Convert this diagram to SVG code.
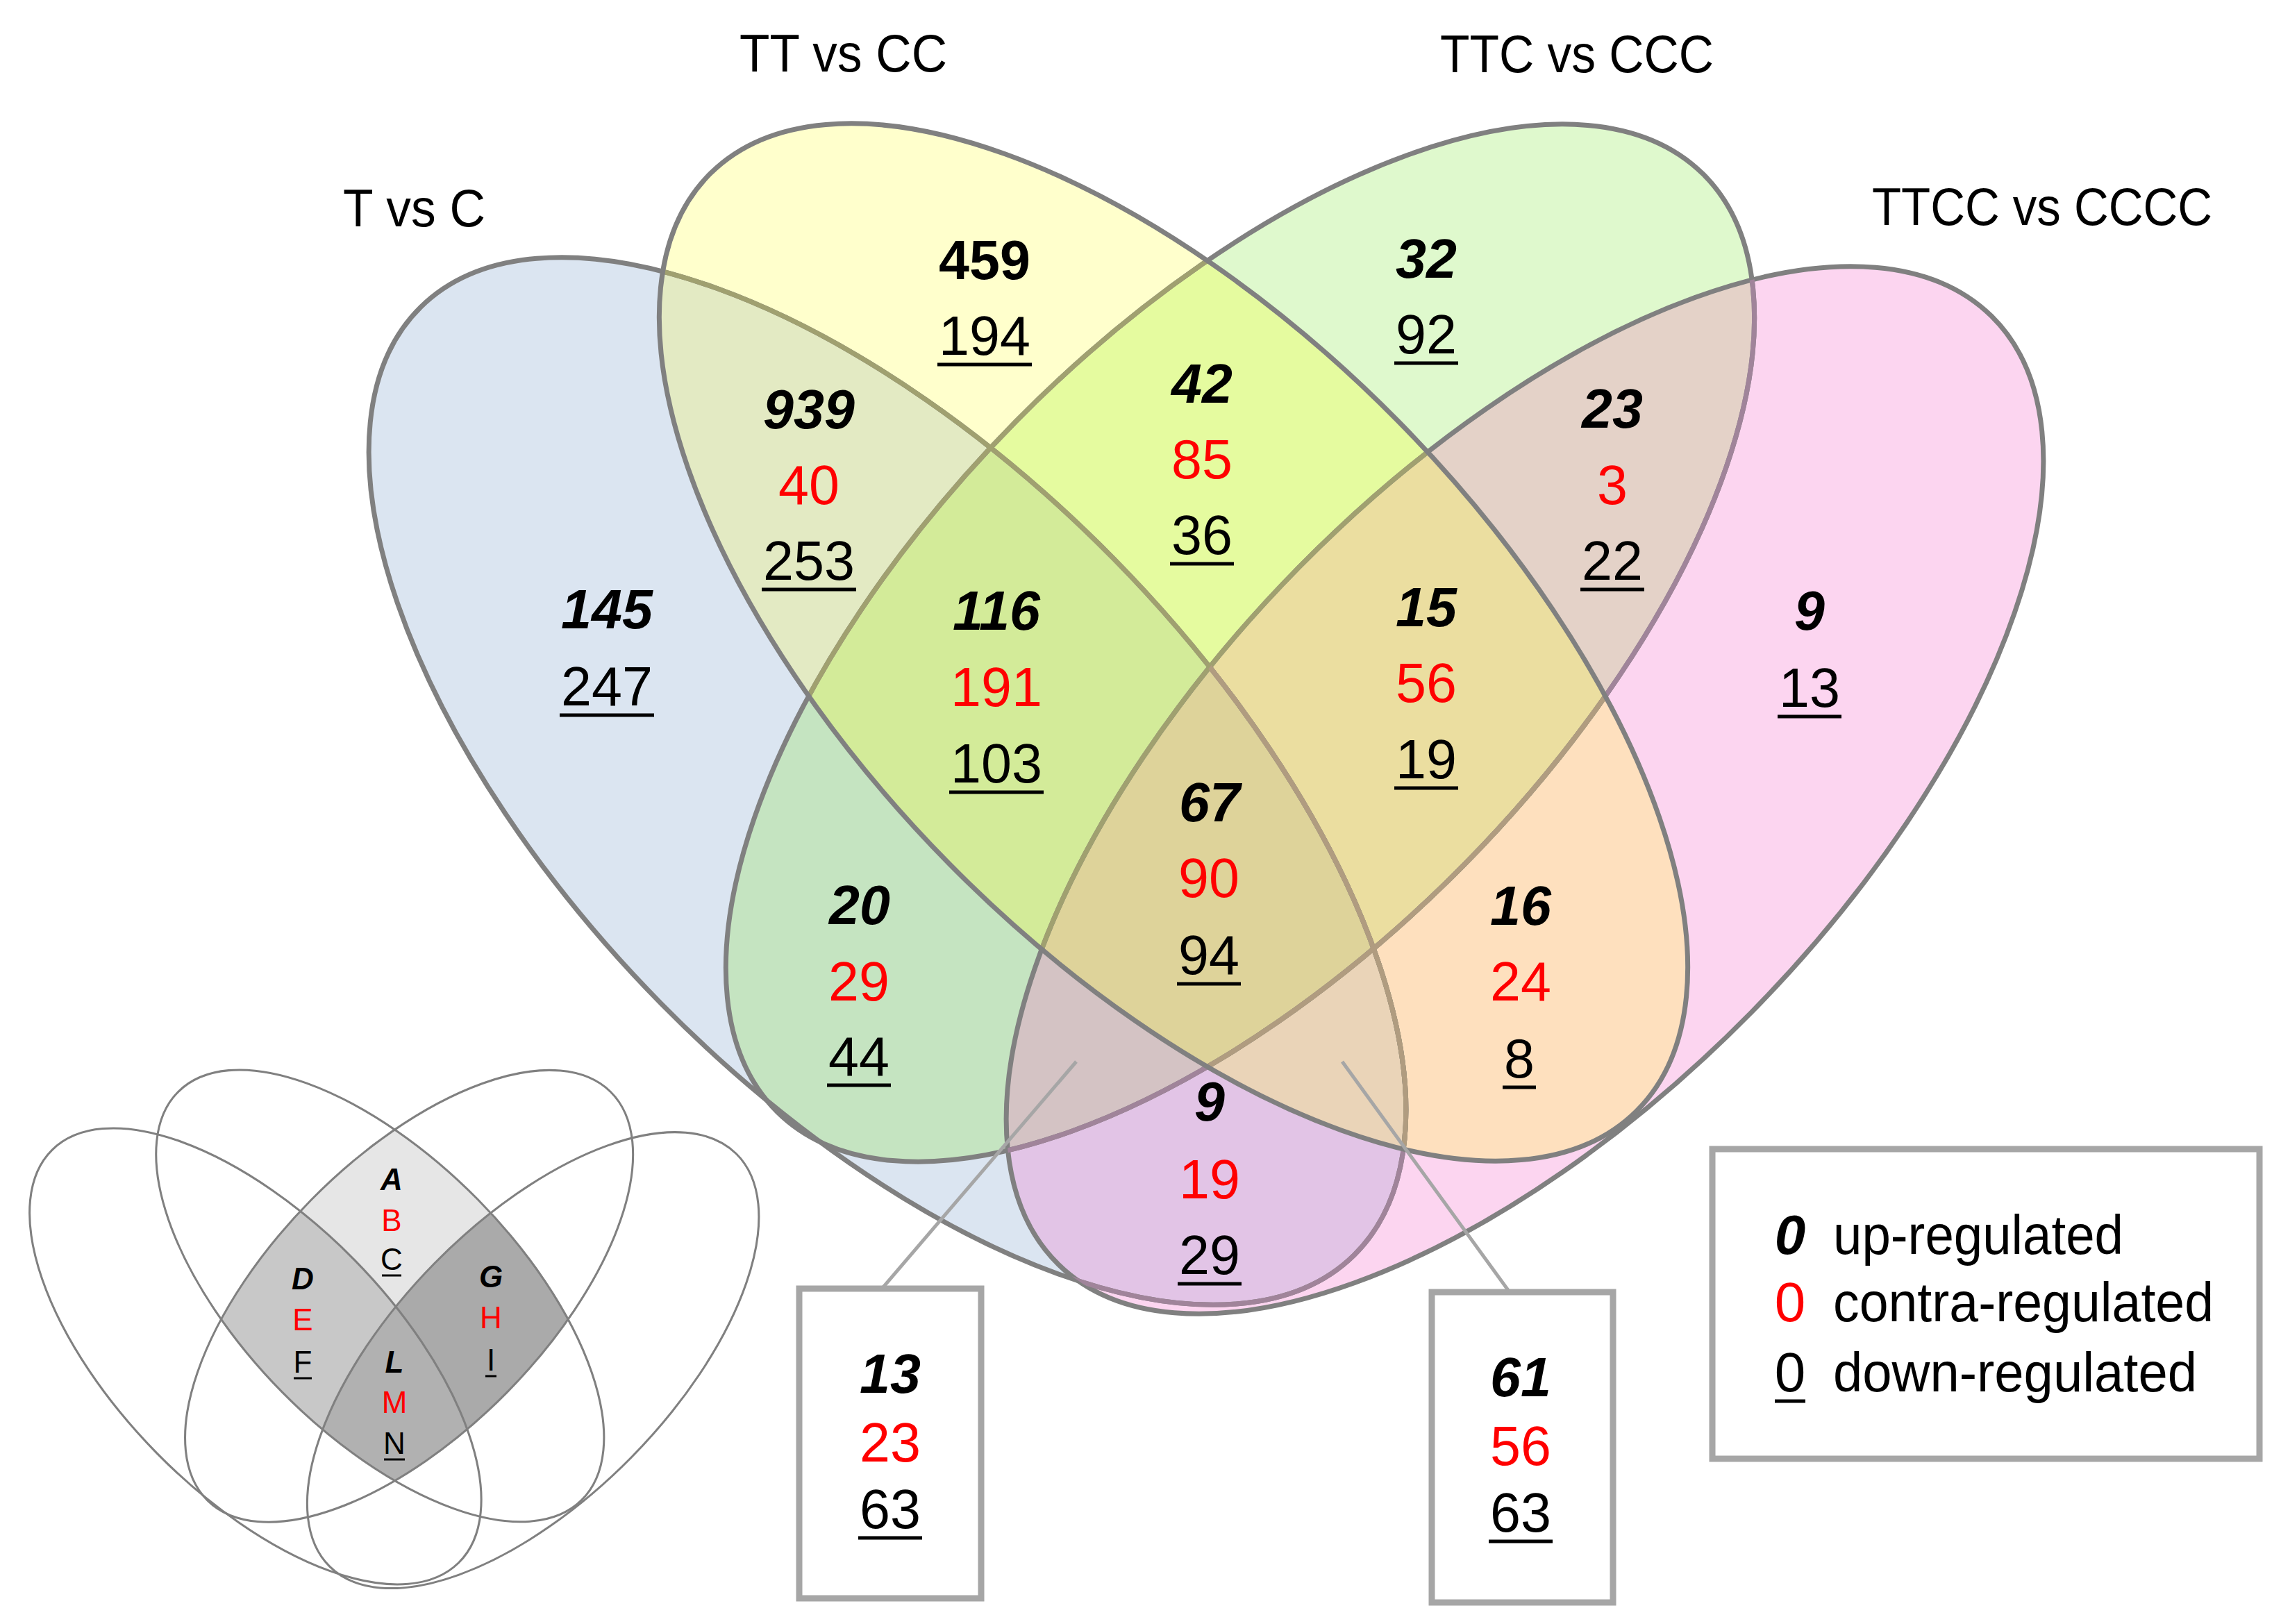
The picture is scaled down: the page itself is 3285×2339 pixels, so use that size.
<svg xmlns="http://www.w3.org/2000/svg" width="3285" height="2339" viewBox="0 0 3285 2339">
<style>
text{font-family:"Liberation Sans",Arial,sans-serif;}
.n{font-size:79px;text-anchor:middle;fill:#000;}
.up{font-weight:bold;font-style:italic;}
.upr{font-weight:bold;}
.ul{stroke:#000;stroke-width:5;}
.lab{font-size:76px;fill:#000;}
.leg{font-size:80px;fill:#000;}
.ins{font-size:44px;text-anchor:middle;fill:#000;}
text.red{fill:#FF0000;}
.box{fill:#fff;stroke:#A6A6A6;stroke-width:9;}
.ptr{stroke:#A6A6A6;stroke-width:5;}
.edge{fill:none;stroke:#808080;stroke-width:7;}
.em{fill:none;stroke:#A0849A;stroke-width:7;}
.eo{fill:none;stroke:#A0A070;stroke-width:7;}
.et{fill:none;stroke:#B09C80;stroke-width:7;}
.iedge{fill:none;stroke:#808080;stroke-width:7;}
</style>
<defs>
<ellipse id="eB" cx="1278" cy="1125" rx="958" ry="457" transform="rotate(45.45 1278 1125)"/>
<ellipse id="eY" cx="1690" cy="925" rx="949" ry="454" transform="rotate(45.4 1690 925)"/>
<ellipse id="eG" cx="1786" cy="926" rx="949" ry="454" transform="rotate(-45.4 1786 926)"/>
<ellipse id="eP" cx="2196" cy="1138" rx="958" ry="457" transform="rotate(-45.45 2196 1138)"/>
<clipPath id="cpB"><use href="#eB"/></clipPath>
<clipPath id="cpY"><use href="#eY"/></clipPath>
<clipPath id="cpG"><use href="#eG"/></clipPath>
<clipPath id="cpP"><use href="#eP"/></clipPath>
</defs>

<g id="venn-regions">
<use href="#eB" fill="#DBE5F1"/>
<use href="#eG" fill="#DFF9CD"/>
<use href="#eP" fill="#FCD5F0"/>
<use href="#eY" fill="#FFFFCC"/>
<g clip-path="url(#cpB)"><use href="#eY" fill="#E3EAC3"/></g>
<g clip-path="url(#cpB)"><use href="#eG" fill="#C5E4C1"/></g>
<g clip-path="url(#cpB)"><use href="#eP" fill="#E2C4E6"/></g>
<g clip-path="url(#cpY)"><use href="#eG" fill="#E5FB9F"/></g>
<g clip-path="url(#cpY)"><use href="#eP" fill="#FEE0BE"/></g>
<g clip-path="url(#cpG)"><use href="#eP" fill="#E4D2C8"/></g>
<g clip-path="url(#cpB)"><g clip-path="url(#cpY)"><use href="#eG" fill="#D3EB99"/></g></g>
<g clip-path="url(#cpB)"><g clip-path="url(#cpY)"><use href="#eP" fill="#EAD4B8"/></g></g>
<g clip-path="url(#cpB)"><g clip-path="url(#cpG)"><use href="#eP" fill="#D4C3C4"/></g></g>
<g clip-path="url(#cpY)"><g clip-path="url(#cpG)"><use href="#eP" fill="#EBDEA0"/></g></g>
<g clip-path="url(#cpB)"><g clip-path="url(#cpY)"><g clip-path="url(#cpG)"><use href="#eP" fill="#DED39A"/></g></g></g>
</g>

<g id="venn-outlines">
<use href="#eB" class="edge"/>
<use href="#eG" class="edge"/>
<use href="#eP" class="edge"/>
<g clip-path="url(#cpP)"><use href="#eB" class="em"/><use href="#eG" class="em"/></g>
<g clip-path="url(#cpY)"><use href="#eB" class="eo"/><use href="#eG" class="eo"/><use href="#eP" class="eo"/></g>
<g clip-path="url(#cpY)"><g clip-path="url(#cpP)"><use href="#eB" class="et"/><use href="#eG" class="et"/></g></g>
<use href="#eY" class="edge"/>
</g>

<g id="set-labels">
<text id="lbl-TvsC" class="lab" x="494" y="326" textLength="205" lengthAdjust="spacingAndGlyphs">T vs C</text>
<text id="lbl-TTvsCC" class="lab" x="1065" y="103" textLength="299" lengthAdjust="spacingAndGlyphs">TT vs CC</text>
<text id="lbl-TTCvsCCC" class="lab" x="2074" y="104" textLength="394" lengthAdjust="spacingAndGlyphs">TTC vs CCC</text>
<text id="lbl-TTCCvsCCCC" class="lab" x="2696" y="324" textLength="490" lengthAdjust="spacingAndGlyphs">TTCC vs CCCC</text>
</g>

<g id="region-counts">
<g id="r-TT"><text class="n upr" x="1418" y="402">459</text><text class="n" x="1418" y="511">194</text><line class="ul" x1="1350" y1="525" x2="1486" y2="525"/></g>
<g id="r-TTC"><text class="n up" x="2054" y="400">32</text><text class="n" x="2054" y="509">92</text><line class="ul" x1="2008" y1="523" x2="2100" y2="523"/></g>
<g id="r-T-TT"><text class="n up" x="1165" y="617">939</text><text class="n red" x="1165" y="726">40</text><text class="n" x="1165" y="835">253</text><line class="ul" x1="1097" y1="849" x2="1233" y2="849"/></g>
<g id="r-TT-TTC"><text class="n up" x="1731" y="580">42</text><text class="n red" x="1731" y="689">85</text><text class="n" x="1731" y="798">36</text><line class="ul" x1="1685" y1="812" x2="1777" y2="812"/></g>
<g id="r-TTC-TTCC"><text class="n up" x="2322" y="616">23</text><text class="n red" x="2322" y="726">3</text><text class="n" x="2322" y="835">22</text><line class="ul" x1="2276" y1="849" x2="2368" y2="849"/></g>
<g id="r-T"><text class="n up" x="874" y="905">145</text><text class="n" x="874" y="1016">247</text><line class="ul" x1="806" y1="1030" x2="942" y2="1030"/></g>
<g id="r-T-TT-TTC"><text class="n up" x="1435" y="907">116</text><text class="n red" x="1435" y="1017">191</text><text class="n" x="1435" y="1127">103</text><line class="ul" x1="1367" y1="1141" x2="1503" y2="1141"/></g>
<g id="r-TT-TTC-TTCC"><text class="n up" x="2054" y="902">15</text><text class="n red" x="2054" y="1011">56</text><text class="n" x="2054" y="1121">19</text><line class="ul" x1="2008" y1="1135" x2="2100" y2="1135"/></g>
<g id="r-TTCC"><text class="n up" x="2606" y="907">9</text><text class="n" x="2606" y="1018">13</text><line class="ul" x1="2560" y1="1032" x2="2652" y2="1032"/></g>
<g id="r-all"><text class="n up" x="1742" y="1183">67</text><text class="n red" x="1741" y="1292">90</text><text class="n" x="1741" y="1403">94</text><line class="ul" x1="1695" y1="1417" x2="1787" y2="1417"/></g>
<g id="r-T-TTC"><text class="n up" x="1238" y="1331">20</text><text class="n red" x="1237" y="1441">29</text><text class="n" x="1237" y="1549">44</text><line class="ul" x1="1191" y1="1563" x2="1283" y2="1563"/></g>
<g id="r-TT-TTCC"><text class="n up" x="2190" y="1332">16</text><text class="n red" x="2190" y="1441">24</text><text class="n" x="2188" y="1552">8</text><line class="ul" x1="2164" y1="1566" x2="2212" y2="1566"/></g>
<g id="r-T-TTCC"><text class="n up" x="1742" y="1614">9</text><text class="n red" x="1742" y="1726">19</text><text class="n" x="1742" y="1835">29</text><line class="ul" x1="1696" y1="1849" x2="1788" y2="1849"/></g>
</g>

<g id="connectors">
<line class="ptr" x1="1270" y1="1856" x2="1550" y2="1529"/>
<line class="ptr" x1="1933" y1="1529" x2="2174" y2="1861"/>
</g>

<g id="box-T-TTC-TTCC">
<rect class="box" x="1151" y="1856" width="262" height="446"/>
<text class="n up" x="1282" y="2006">13</text><text class="n red" x="1282" y="2105">23</text><text class="n" x="1282" y="2201">63</text><line class="ul" x1="1236" y1="2215" x2="1328" y2="2215"/>
</g>
<g id="box-T-TT-TTCC">
<rect class="box" x="2062" y="1861" width="261" height="447"/>
<text class="n up" x="2190" y="2011">61</text><text class="n red" x="2190" y="2110">56</text><text class="n" x="2190" y="2206">63</text><line class="ul" x1="2144" y1="2220" x2="2236" y2="2220"/>
</g>

<g id="legend">
<rect class="box" x="2466" y="1655" width="788" height="446"/>
<text class="leg up" x="2578" y="1806" text-anchor="middle">0</text>
<text class="leg" x="2640" y="1806" textLength="418" lengthAdjust="spacingAndGlyphs">up-regulated</text>
<text class="leg red" x="2578" y="1903" text-anchor="middle">0</text>
<text class="leg" x="2640" y="1903" textLength="548" lengthAdjust="spacingAndGlyphs">contra-regulated</text>
<text class="leg" x="2578" y="2004" text-anchor="middle">0</text>
<line class="ul" x1="2556" y1="2018" x2="2600" y2="2018"/>
<text class="leg" x="2640" y="2004" textLength="524" lengthAdjust="spacingAndGlyphs">down-regulated</text>
</g>

<g id="inset-key">
<g transform="translate(-188.7 1463.5) scale(0.4355)">
<g clip-path="url(#cpY)"><use href="#eG" fill="#E6E6E6"/></g>
<g clip-path="url(#cpB)"><g clip-path="url(#cpY)"><use href="#eG" fill="#C8C8C8"/></g></g>
<g clip-path="url(#cpY)"><g clip-path="url(#cpG)"><use href="#eP" fill="#AAAAAA"/></g></g>
<g clip-path="url(#cpB)"><g clip-path="url(#cpY)"><g clip-path="url(#cpG)"><use href="#eP" fill="#B1B1B1"/></g></g></g>
<use href="#eB" class="iedge"/>
<use href="#eY" class="iedge"/>
<use href="#eG" class="iedge"/>
<use href="#eP" class="iedge"/>
</g>
<text class="ins up" x="564" y="1714">A</text>
<text class="ins red" x="564" y="1773">B</text>
<text class="ins" x="564" y="1829">C</text><line x1="550" y1="1837" x2="578" y2="1837" stroke="#000" stroke-width="3"/>
<text class="ins up" x="436" y="1857">D</text>
<text class="ins red" x="436" y="1916">E</text>
<text class="ins" x="436" y="1977">F</text><line x1="423" y1="1985" x2="449" y2="1985" stroke="#000" stroke-width="3"/>
<text class="ins up" x="707" y="1854">G</text>
<text class="ins red" x="707" y="1913">H</text>
<text class="ins" x="707" y="1974">I</text><line x1="699" y1="1982" x2="715" y2="1982" stroke="#000" stroke-width="3"/>
<text class="ins up" x="568" y="1977">L</text>
<text class="ins red" x="568" y="2035">M</text>
<text class="ins" x="568" y="2094">N</text><line x1="553" y1="2102" x2="583" y2="2102" stroke="#000" stroke-width="3"/>
</g>
</svg>
